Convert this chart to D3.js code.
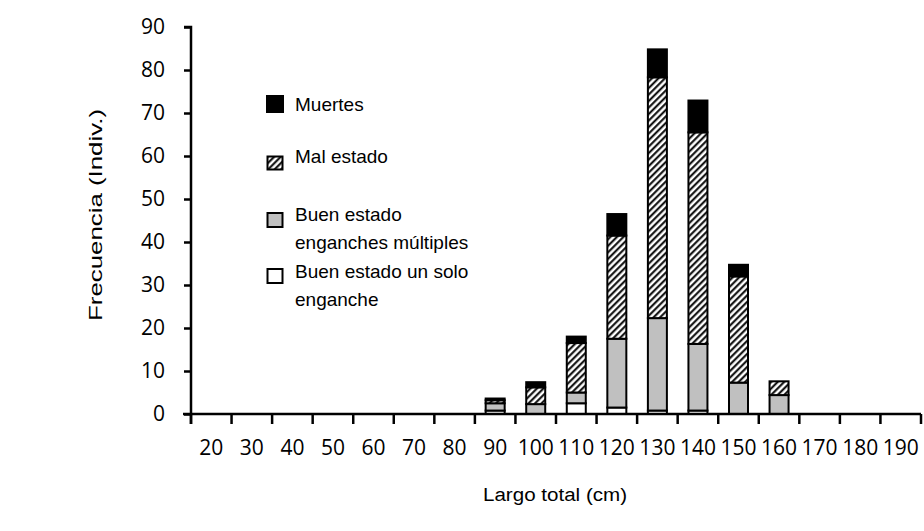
<!DOCTYPE html>
<html>
<head>
<meta charset="utf-8">
<script src="https://cdn.jsdelivr.net/npm/d3@7"></script>
<style>
  body { margin: 0; background: #fff; }
  svg { display: block; }
  .tick-label { font-family: "Open Sans", sans-serif; font-size: 21px; fill: #000; }
  .title { font-family: "Liberation Sans", Arial, sans-serif; font-size: 18px; fill: #000; }
  .legend-text { font-family: "Liberation Sans", Arial, sans-serif; font-size: 19px; fill: #000; }
</style>
</head>
<body>
<div id="chart"></div>
<script>
// DATA
let categories = [20, 30, 40, 50, 60, 70, 80, 90, 100, 110, 120, 130, 140, 150, 160, 170, 180, 190];
// stack from bottom to top
let unSolo    = [0, 0, 0, 0, 0, 0, 0, 0.8, 0,   2.5, 1.5, 0.8, 0.8, 0,    0,   0, 0, 0];
let multiples = [0, 0, 0, 0, 0, 0, 0, 1.7, 2.3, 2.5, 16,  21.5, 15.5, 7.3, 4.4, 0, 0, 0];
let malEstado = [0, 0, 0, 0, 0, 0, 0, 0.7, 3.9, 11.5, 24, 56,  49.2, 24.7, 3.2, 0, 0, 0];
let muertes   = [0, 0, 0, 0, 0, 0, 0, 0.4, 1.2, 1.5, 5,   6.5, 7.4, 2.7,  0,   0, 0, 0];
let yTicks = [0, 10, 20, 30, 40, 50, 60, 70, 80, 90];
let seriesKeys = ['unSolo', 'multiples', 'malEstado', 'muertes'];
let legendLabels = [
	['Muertes'],
	['Mal estado'],
	['Buen estado', 'enganches múltiples'],
	['Buen estado un solo', 'enganche']
];

// PARAMETERS
let width = 924,
	height = 531,
	x0 = 191,
	x1 = 921,
	yBase = 414,
	yTop = 27;

let rows = categories.map((c, i) => ({
	cat: c,
	unSolo: unSolo[i],
	multiples: multiples[i],
	malEstado: malEstado[i],
	muertes: muertes[i]
}));

let stacked = d3.stack().keys(seriesKeys)(rows);

// SCALES
let xScale = d3.scaleBand().domain(categories).range([x0, x1]),
	yScale = d3.scaleLinear().domain([0, 90]).range([yBase, yTop]);

let fills = {
	unSolo: '#ffffff',
	multiples: '#c0c0c0',
	malEstado: 'url(#hatch)',
	muertes: '#000000'
};

let svg = d3.select('#chart')
	.append('svg')
	.attr('width', width)
	.attr('height', height);

// PATTERN
let defs = svg.append('defs');
let pat = defs.append('pattern')
	.attr('id', 'hatch')
	.attr('patternUnits', 'userSpaceOnUse')
	.attr('width', 4.6)
	.attr('height', 4.6)
	.attr('patternTransform', 'rotate(45)');
pat.append('rect').attr('width', 4.6).attr('height', 4.6).attr('fill', '#fff');
pat.append('line')
	.attr('x1', 1.2).attr('y1', 0)
	.attr('x2', 1.2).attr('y2', 4.6)
	.attr('stroke', '#000')
	.attr('stroke-width', 2);

// BARS
let barW = 19;
svg.append('g')
	.selectAll('g')
	.data(stacked)
	.enter()
	.append('g')
	.attr('fill', d => fills[d.key])
	.selectAll('rect')
	.data(d => d.filter(s => s[1] - s[0] > 0))
	.enter()
	.append('rect')
	.attr('x', d => xScale(d.data.cat) + xScale.bandwidth() / 2 - barW / 2)
	.attr('y', d => yScale(d[1]))
	.attr('width', barW)
	.attr('height', d => yScale(d[0]) - yScale(d[1]))
	.attr('stroke', '#000')
	.attr('stroke-width', 2);

// AXES
let xAxis = d3.axisBottom(xScale).tickSize(0).tickFormat(d => d);
let gx = svg.append('g')
	.attr('transform', `translate(0, ${yBase})`)
	.call(xAxis);
gx.select('.domain').attr('stroke', '#000').attr('stroke-width', 2.5).attr('d', `M${x0 - 8},0H${x1}`);
gx.selectAll('.tick text')
	.attr('class', 'tick-label')
	.attr('y', 41)
	.attr('dy', 0)
	.attr('font-size', null)
	.attr('font-family', null);

// boundary ticks between bands
let bounds = categories.map(c => xScale(c)).concat([x1]);
gx.selectAll('line.bound')
	.data(bounds)
	.enter()
	.append('line')
	.attr('class', 'bound')
	.attr('x1', d => d).attr('x2', d => d)
	.attr('y1', 0).attr('y2', 10)
	.attr('stroke', '#000')
	.attr('stroke-width', 2.5);

let yAxis = d3.axisLeft(yScale).tickValues(yTicks).tickSize(7).tickPadding(19);
let gy = svg.append('g')
	.attr('transform', `translate(${x0}, 0)`)
	.call(yAxis);
gy.select('.domain').attr('stroke', '#000').attr('stroke-width', 2.5).attr('d', `M-7,${yTop}H0V${yBase + 10}`);
gy.selectAll('.tick line').attr('stroke', '#000').attr('stroke-width', 2.5);
gy.selectAll('.tick text')
	.attr('class', 'tick-label')
	.attr('font-size', null)
	.attr('font-family', null);

// TITLES
svg.append('text')
	.attr('class', 'title')
	.attr('x', 555)
	.attr('y', 501)
	.attr('text-anchor', 'middle')
	.attr('textLength', 144)
	.attr('lengthAdjust', 'spacingAndGlyphs')
	.text('Largo total (cm)');

svg.append('text')
	.attr('class', 'title')
	.attr('transform', 'translate(102, 215) rotate(-90)')
	.attr('text-anchor', 'middle')
	.attr('textLength', 212)
	.attr('lengthAdjust', 'spacingAndGlyphs')
	.text('Frecuencia (Indiv.)');

// LEGEND
let legendItems = [
	{ key: 'muertes', y: 104, w: 16, h: 16 },
	{ key: 'malEstado', y: 163, w: 15, h: 13 },
	{ key: 'multiples', y: 220, w: 15, h: 14 },
	{ key: 'unSolo', y: 276, w: 15, h: 14 }
];
let lineY = [111, 163, 221, 278];

let legend = svg.append('g').attr('class', 'legend');
legendItems.forEach((it, i) => {
	legend.append('rect')
		.attr('x', 275 - it.w / 2)
		.attr('y', it.y - it.h / 2)
		.attr('width', it.w)
		.attr('height', it.h)
		.attr('fill', fills[it.key])
		.attr('stroke', '#000')
		.attr('stroke-width', 2);
	let t = legend.append('text')
		.attr('class', 'legend-text')
		.attr('x', 295)
		.attr('y', lineY[i]);
	legendLabels[i].forEach((s, j) => {
		t.append('tspan')
			.attr('x', 295)
			.attr('dy', j === 0 ? 0 : 28)
			.text(s);
	});
});
</script>
</body>
</html>
